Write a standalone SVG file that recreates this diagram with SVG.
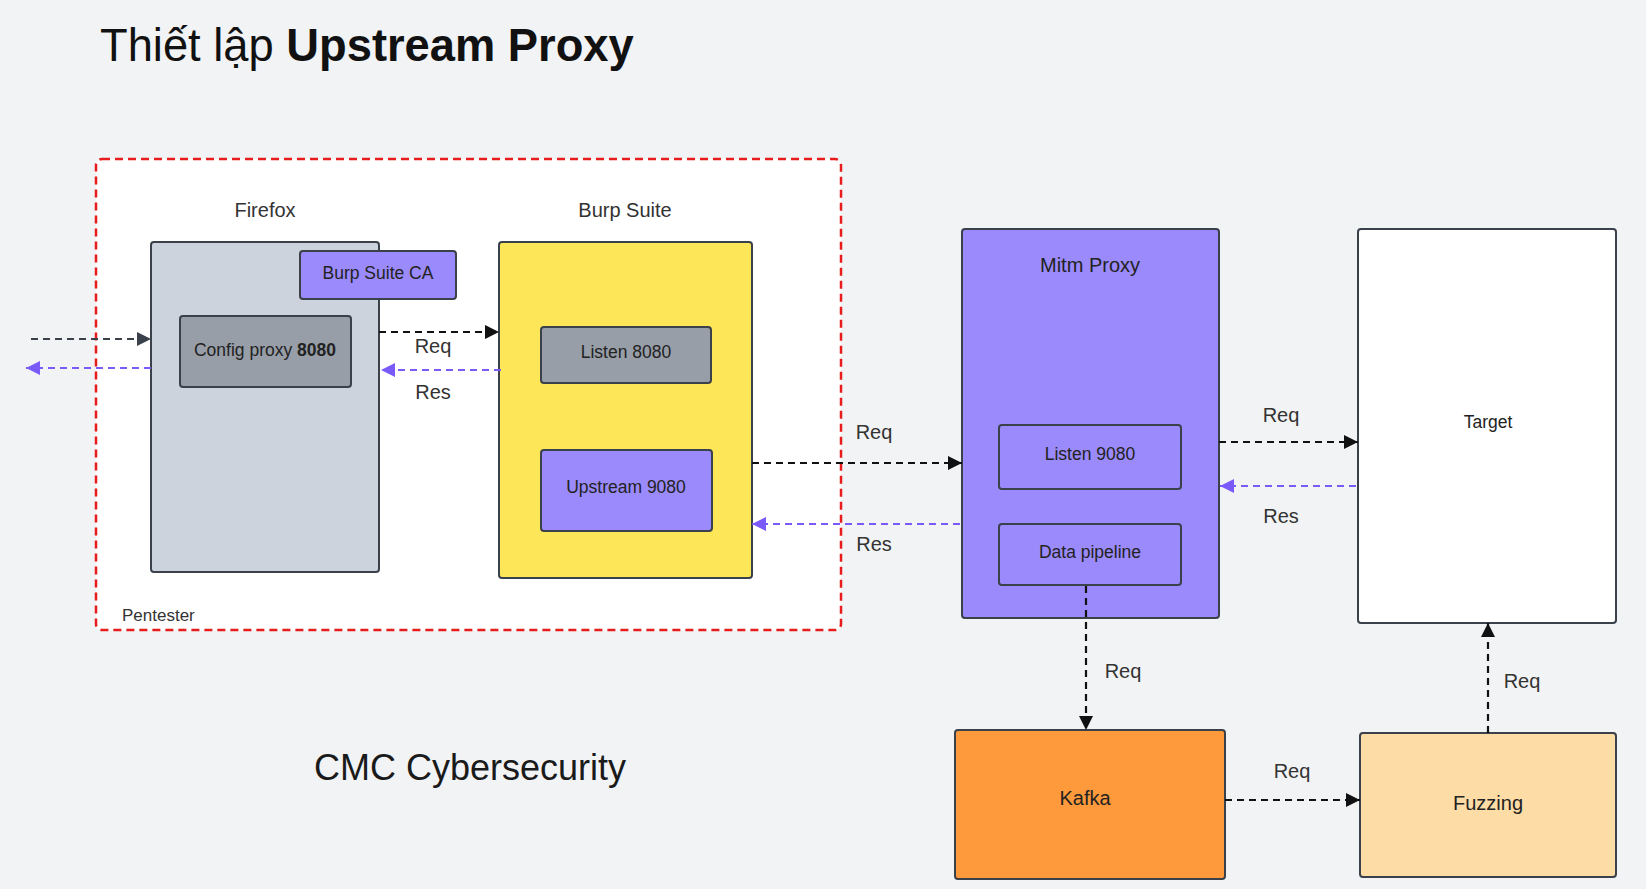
<svg xmlns="http://www.w3.org/2000/svg" width="1646" height="889" viewBox="0 0 1646 889">
<style>
  text { font-family: "Liberation Sans", Arial, sans-serif; fill: #222; }
  .box { stroke: #3a414a; stroke-width: 2; }
  .lbl { font-size: 20px; text-anchor: middle; fill: #333; }
  .inner { font-size: 17.5px; text-anchor: middle; }
  .big { font-size: 20px; text-anchor: middle; }
  .blk { stroke: #111; stroke-width: 2.2; stroke-dasharray: 7 5; fill: none; }
  .gry { stroke: #3a414a; stroke-width: 2.2; stroke-dasharray: 7 5; fill: none; }
  .pur { stroke: #7a5af8; stroke-width: 2.2; stroke-dasharray: 7 5; fill: none; }
</style>
<defs>
  <marker id="ab" markerUnits="userSpaceOnUse" markerWidth="14" markerHeight="14" refX="12" refY="6" orient="auto" viewBox="0 0 12 12"><path d="M0,0 L12,6 L0,12 z" fill="#111"/></marker>
  <marker id="ag" markerUnits="userSpaceOnUse" markerWidth="14" markerHeight="14" refX="12" refY="6" orient="auto" viewBox="0 0 12 12"><path d="M0,0 L12,6 L0,12 z" fill="#3a414a"/></marker>
  <marker id="ap" markerUnits="userSpaceOnUse" markerWidth="14" markerHeight="14" refX="12" refY="6" orient="auto" viewBox="0 0 12 12"><path d="M0,0 L12,6 L0,12 z" fill="#7a5af8"/></marker>
</defs>
<rect x="0" y="0" width="1646" height="889" fill="#f2f3f5"/>

<text x="100" y="61" style="font-size:45.3px;fill:#111">Thiết lập <tspan font-weight="bold">Upstream Proxy</tspan></text>

<g id="pentester">
  <rect x="96" y="159" width="745" height="471" rx="6" fill="#ffffff" stroke="#e81c1c" stroke-width="2.5" stroke-dasharray="8 5"/>
  <text x="122" y="621" style="font-size:17px;fill:#333">Pentester</text>
</g>

<g id="firefox">
  <text class="lbl" x="265" y="217">Firefox</text>
  <rect class="box" x="151" y="242" width="228" height="330" rx="3" fill="#cdd3dc"/>
</g>
<g id="burp-ca">
  <rect class="box" x="300" y="251" width="156" height="48" rx="3" fill="#9b8afb"/>
  <text class="inner" x="378" y="279">Burp Suite CA</text>
</g>
<g id="config-proxy">
  <rect class="box" x="180" y="316" width="171" height="71" rx="3" fill="#979ea8"/>
  <text class="inner" x="265" y="356">Config proxy <tspan font-weight="bold">8080</tspan></text>
</g>

<g id="burp">
  <text class="lbl" x="625" y="217">Burp Suite</text>
  <rect class="box" x="499" y="242" width="253" height="336" rx="3" fill="#fde658"/>
</g>
<g id="listen-8080">
  <rect class="box" x="541" y="327" width="170" height="56" rx="3" fill="#979ea8"/>
  <text class="inner" x="626" y="358">Listen 8080</text>
</g>
<g id="upstream-9080">
  <rect class="box" x="541" y="450" width="171" height="81" rx="3" fill="#9b8afb"/>
  <text class="inner" x="626" y="493">Upstream 9080</text>
</g>

<g id="mitm">
  <rect class="box" x="962" y="229" width="257" height="389" rx="3" fill="#9b8afb"/>
  <text class="lbl" x="1090" y="272" style="fill:#222">Mitm Proxy</text>
</g>
<g id="listen-9080">
  <rect class="box" x="999" y="425" width="182" height="64" rx="3" fill="#9b8afb"/>
  <text class="inner" x="1090" y="460">Listen 9080</text>
</g>
<g id="data-pipeline">
  <rect class="box" x="999" y="524" width="182" height="61" rx="3" fill="#9b8afb"/>
  <text class="inner" x="1090" y="558">Data pipeline</text>
</g>

<g id="target">
  <rect class="box" x="1358" y="229" width="258" height="394" rx="3" fill="#ffffff"/>
  <text class="inner" x="1488" y="428">Target</text>
</g>

<g id="kafka">
  <rect class="box" x="955" y="730" width="270" height="149" rx="3" fill="#ff9a3c"/>
  <text class="big" x="1085" y="805">Kafka</text>
</g>
<g id="fuzzing">
  <rect class="box" x="1360" y="733" width="256" height="144" rx="3" fill="#fedca6"/>
  <text class="big" x="1488" y="810">Fuzzing</text>
</g>

<text x="314" y="780" style="font-size:36px;fill:#1a1a1a">CMC Cybersecurity</text>

<g id="connectors">
  <line class="gry" x1="31" y1="339" x2="151" y2="339" marker-end="url(#ag)"/>
  <line class="pur" x1="151" y1="368" x2="26" y2="368" marker-end="url(#ap)"/>

  <line class="blk" x1="379" y1="332" x2="499" y2="332" marker-end="url(#ab)"/>
  <text class="lbl" x="433" y="353">Req</text>
  <line class="pur" x1="501" y1="370" x2="381" y2="370" marker-end="url(#ap)"/>
  <text class="lbl" x="433" y="399">Res</text>

  <line class="blk" x1="752" y1="463" x2="962" y2="463" marker-end="url(#ab)"/>
  <text class="lbl" x="874" y="439">Req</text>
  <line class="pur" x1="960" y1="524" x2="752" y2="524" marker-end="url(#ap)"/>
  <text class="lbl" x="874" y="551">Res</text>

  <line class="blk" x1="1219" y1="442" x2="1358" y2="442" marker-end="url(#ab)"/>
  <text class="lbl" x="1281" y="422">Req</text>
  <line class="pur" x1="1356" y1="486" x2="1220" y2="486" marker-end="url(#ap)"/>
  <text class="lbl" x="1281" y="523">Res</text>

  <line class="blk" x1="1086" y1="586" x2="1086" y2="730" marker-end="url(#ab)"/>
  <text class="lbl" x="1123" y="678">Req</text>

  <line class="blk" x1="1225" y1="800" x2="1360" y2="800" marker-end="url(#ab)"/>
  <text class="lbl" x="1292" y="778">Req</text>

  <line class="blk" x1="1488" y1="733" x2="1488" y2="623" marker-end="url(#ab)"/>
  <text class="lbl" x="1522" y="688">Req</text>
</g>
</svg>
